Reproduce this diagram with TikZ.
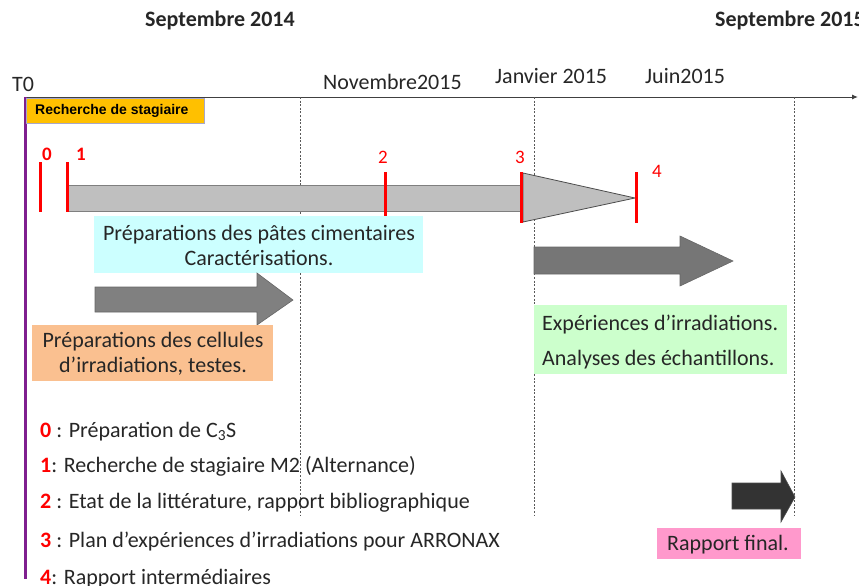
\documentclass[tikz,border=0pt]{standalone}
\usepackage{fontspec}
\setmainfont{Carlito}
\newfontfamily\arialf{Liberation Sans}
\usetikzlibrary{arrows.meta}
\definecolor{tred}{HTML}{FF0000}
\definecolor{tpurple}{HTML}{7F1F8F}
\definecolor{barfill}{HTML}{BFBFBF}
\definecolor{barline}{HTML}{7F7F7F}
\definecolor{cyanbox}{HTML}{CCFFFF}
\definecolor{orangebox}{HTML}{FAC090}
\definecolor{greenbox}{HTML}{CCFFCC}
\definecolor{pinkbox}{HTML}{FF99CC}
\definecolor{recbox}{HTML}{FFC000}
\definecolor{arrmid}{HTML}{808080}
\definecolor{arrdark}{HTML}{333333}
\definecolor{txt}{HTML}{262626}
\tikzset{
  lbl/.style={inner sep=0pt, anchor=base west, font=\fontsize{22}{26}\selectfont, text=txt},
  ctr/.style={inner sep=0pt, anchor=base, font=\fontsize{22}{26}\selectfont, text=txt},
  title/.style={inner sep=0pt, anchor=base west, font=\fontsize{22}{26}\selectfont\bfseries, text=txt},
  tick/.style={draw=tred, line width=3pt},
  num/.style={inner sep=0pt, anchor=base west, text=tred, font=\fontsize{19}{22}\selectfont},
  bnum/.style={num, font=\fontsize{19}{22}\selectfont\bfseries},
  vdash/.style={draw=black!65, line width=0.8pt, dash pattern=on 2pt off 1.6pt},
  box/.style={inner sep=0pt, outer sep=0pt, anchor=north west},
}
\begin{document}
\begin{tikzpicture}[x=1pt,y=-1pt]
\useasboundingbox (0,0) rectangle (859,586);
% titles
\node[title] (s14) at (145,27) {Septembre 2014};
\node[title] (s15) at (715,27) {Septembre 2015};
% axis
\coordinate (ax0) at (24,97);
\coordinate (ax1) at (858,97);
\draw[black!75, line width=1pt, -{Latex[length=6pt,width=5pt]}] (ax0) -- (ax1);
\node[lbl] (t0) at (12,92) {T0};
\node[lbl] (nov) at (323,89) {Novembre2015};
\node[lbl] (jan) at (495,83) {Janvier 2015};
\node[lbl] (jun) at (645,83) {Juin2015};
% dashed verticals
\coordinate (d1t) at (300,97); \coordinate (d1b) at (300,516);
\coordinate (d2t) at (534,97); \coordinate (d2b) at (534,516);
\coordinate (d3t) at (794,97); \coordinate (d3b) at (794,516);
\draw[vdash] (d1t) -- (d1b);
\draw[vdash] (d2t) -- (d2b);
\draw[vdash] (d3t) -- (d3b);
% purple line
\coordinate (pt) at (25.5,97); \coordinate (pb) at (25.5,579);
\draw[tpurple, line width=3pt] (pt) -- (pb);
% Recherche de stagiaire
\node[box, draw=blue!25!gray!55, fill=recbox, line width=0.8pt, minimum width=178pt, minimum height=25pt] (rec) at (26,98) {};
\node[inner sep=0pt, anchor=base west, font=\arialf\bfseries\fontsize{14}{16}\selectfont] (rect) at (35,114) {Recherche de stagiaire};
% grey bar
\path[fill=barfill, draw=barline, line width=1pt] (67,185) rectangle (521,211);
% triangle
\path[fill=barfill, draw=black!70, line width=0.8pt] (523,173) -- (635,198) -- (523,222) -- cycle;
% ticks
\draw[tick] (40,162) -- (40,212);
\draw[tick] (67,162) -- (67,212);
\draw[tick] (385,172) -- (385,216);
\draw[tick] (521,172) -- (521,223);
\draw[tick] (636,172) -- (636,223);
\node[bnum] (n0) at (42,160) {0};
\node[bnum] (n1) at (76,160) {1};
\node[num] (n2) at (378,163) {2};
\node[num] (n3) at (515,163) {3};
\node[num] (n4) at (652,177) {4};
% cyan box
\node[box, fill=cyanbox, minimum width=329pt, minimum height=57pt] (cyan) at (94,216) {};
\node[ctr] (cyan1) at (259,240) {Préparations des pâtes cimentaires};
\node[ctr] (cyan2) at (259,265) {Caractérisations.};
% arrow 1
\path[fill=arrmid, draw=black!60, line width=0.6pt] (95,287) -- (257,287) -- (257,273) -- (293,300) -- (257,325) -- (257,312) -- (95,312) -- cycle;
% orange box
\node[box, fill=orangebox, minimum width=241pt, minimum height=56pt] (orange) at (32,325) {};
\node[ctr] (or1) at (153,347) {Préparations des cellules};
\node[ctr] (or2) at (153,372) {d’irradiations, testes.};
% arrow 2
\path[fill=arrmid!92!black, draw=black!60, line width=0.6pt] (534,247) -- (680,247) -- (680,236) -- (733,261) -- (680,286) -- (680,274) -- (534,274) -- cycle;
% green box
\node[box, fill=greenbox, minimum width=253pt, minimum height=69pt] (green) at (534,305) {};
\node[lbl] (gr1) at (542,330) {Expériences d’irradiations.};
\node[lbl] (gr2) at (542,365) {Analyses des échantillons.};
% arrow 3
\path[fill=arrdark, draw=black!70, line width=0.6pt] (732,483) -- (781,483) -- (781,471) -- (795,497) -- (781,522) -- (781,509) -- (732,509) -- cycle;
% pink box
\node[box, fill=pinkbox, minimum width=144pt, minimum height=31pt] (pink) at (657,528) {};
\node[lbl] (pinkt) at (667,550) {Rapport final.};
% legend
\node[lbl] (l0) at (40,437) {\textcolor{tred}{\textbf{0}} : Préparation de C\textsubscript{3}S};
\node[lbl] (l1) at (40,472) {\textcolor{tred}{\textbf{1}}: Recherche de stagiaire M2 (Alternance)};
\node[lbl] (l2) at (40,508) {\textcolor{tred}{\textbf{2}} : Etat de la littérature, rapport bibliographique};
\node[lbl] (l3) at (40,547) {\textcolor{tred}{\textbf{3}} : Plan d’expériences d’irradiations pour ARRONAX};
\node[lbl] (l4) at (40,584) {\textcolor{tred}{\textbf{4}}: Rapport intermédiaires};
\end{tikzpicture}
\end{document}
